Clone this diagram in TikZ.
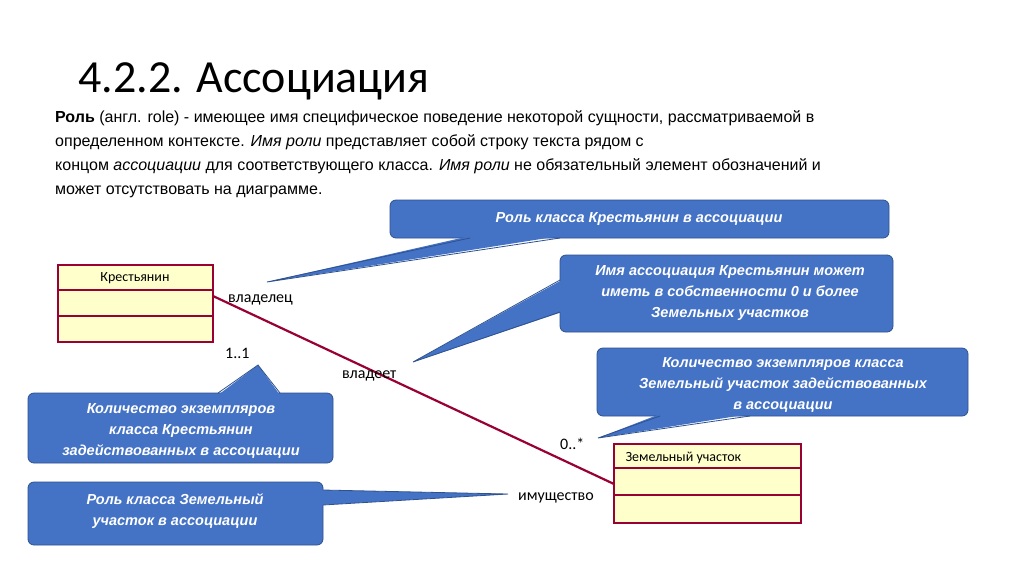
\documentclass[tikz,border=0pt]{standalone}
\usepackage{fontspec}
\setmainfont{Liberation Sans}
\newfontfamily\calfont{Carlito}
\definecolor{cbox}{HTML}{4472C4}
\definecolor{cedge}{HTML}{2F528F}
\definecolor{cls}{HTML}{FFFFCC}
\definecolor{clsb}{HTML}{990033}
\begin{document}
\begin{tikzpicture}[x=1pt,y=-1pt,
  body/.style={anchor=base west,inner sep=0,font=\fontsize{16}{19}\selectfont},
  lbl/.style={anchor=base west,inner sep=0,font=\calfont\fontsize{16}{19}\selectfont},
  ctext/.style={text=white,font=\bfseries\itshape\fontsize{14.5}{21}\selectfont,align=center,inner sep=0},
  callbox/.style={fill=cbox,draw=cedge,line width=0.8pt,rounded corners=6pt},
  clsrow/.style={fill=cls,draw=clsb,line width=2.2pt}]
\useasboundingbox (0,0) rectangle (1024,574);
\fill[white] (0,0) rectangle (1024,574);
\node[anchor=base west,inner sep=0,font=\calfont\fontsize{46}{50}\selectfont] (title) at (78,92) {4.2.2. Ассоциация};
\node[body] (l1) at (55,122) {\textbf{Роль} (англ. role) - имеющее имя специфическое поведение некоторой сущности, рассматриваемой в};
\node[body] (l2) at (55,146) {определенном контексте. \textit{Имя роли} представляет собой строку текста рядом с};
\node[body] (l3) at (55,170) {концом \textit{ассоциации} для соответствующего класса. \textit{Имя роли} не обязательный элемент обозначений и};
\node[body] (l4) at (55,194) {может отсутствовать на диаграмме.};
% classes
\draw[clsrow] (58,265) rectangle (213,290); \draw[clsrow] (58,290) rectangle (213,316); \draw[clsrow] (58,316) rectangle (213,342);
\node[font=\calfont\fontsize{14}{16}\selectfont] (k) at (135,278) {Крестьянин};
\coordinate (ka) at (213,296);
\draw[clsrow] (614,444) rectangle (801,468); \draw[clsrow] (614,468) rectangle (801,495); \draw[clsrow] (614,495) rectangle (801,523);
\node[font=\calfont\fontsize{14}{16}\selectfont,anchor=west] (z) at (622,458) {Земельный участок};
\coordinate (za) at (614,484);
\draw[clsb,line width=2.2pt] (ka) -- (za);
\node[lbl] (own) at (228,302) {владелец};
\node[lbl] (m1) at (225,358) {1..1};
\node[lbl] (has) at (342,378) {владеет};
\node[lbl] (m2) at (560,449) {0..*};
\node[lbl] (prop) at (518,500) {имущество};
% callout 1
\coordinate (t1) at (267,282);
\draw[callbox] (390,200) rectangle (889,238);
\fill[cbox] (470,236) -- (t1) -- (560,236) -- cycle;
\draw[cedge,line width=0.8pt] (470,238) -- (t1) -- (560,238);
\node[ctext] (c1) at (639,219) {Роль класса Крестьянин в ассоциации};
% callout 2
\coordinate (t2) at (413,362);
\draw[callbox] (560,255) rectangle (893,332);
\fill[cbox] (562,280) -- (t2) -- (562,312) -- cycle;
\draw[cedge,line width=0.8pt] (560,280) -- (t2) -- (560,312);
\node[ctext] (c2) at (730,293) {Имя ассоциация Крестьянин может\\иметь в собственности 0 и более\\Земельных участков};
% callout 3
\coordinate (t3) at (598,438);
\draw[callbox] (597,348) rectangle (968,416);
\fill[cbox] (660,414) -- (t3) -- (750,414) -- cycle;
\draw[cedge,line width=0.8pt] (660,416) -- (t3) -- (750,416);
\node[ctext] (c3) at (783,385) {Количество экземпляров класса\\Земельный участок задействованных\\в ассоциации};
% callout 4
\coordinate (t4) at (258,365);
\draw[callbox] (28,393) rectangle (333,463);
\fill[cbox] (218,395) -- (t4) -- (280,395) -- cycle;
\draw[cedge,line width=0.8pt] (218,393) -- (t4) -- (280,393);
\node[ctext] (c4) at (181,431) {Количество экземпляров\\класса Крестьянин\\задействованных в ассоциации};
% callout 5
\coordinate (t5) at (508,494);
\draw[callbox] (28,482) rectangle (323,545);
\fill[cbox] (321,490) -- (t5) -- (321,505) -- cycle;
\draw[cedge,line width=0.8pt] (323,490) -- (t5) -- (323,505);
\node[ctext] (c5) at (175,511) {Роль класса Земельный\\участок в ассоциации};
\end{tikzpicture}
\end{document}
